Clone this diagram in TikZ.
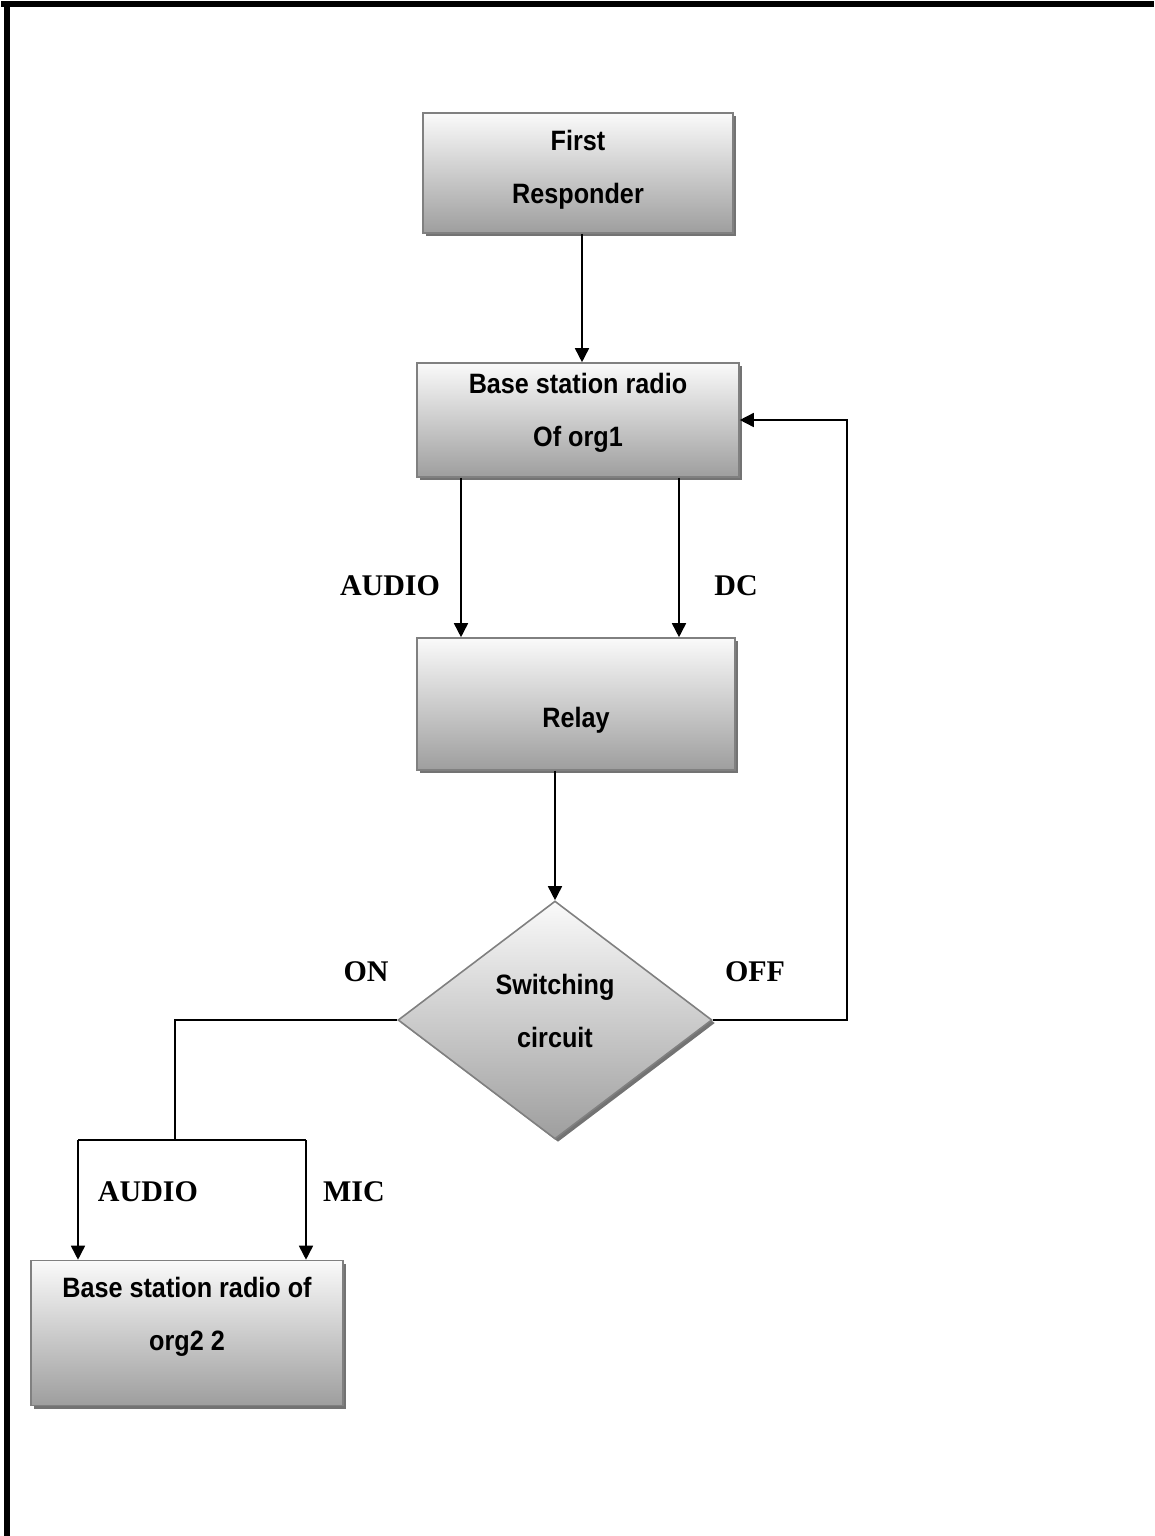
\documentclass[tikz,border=0pt]{standalone}
\usepackage{fontspec}
\setmainfont{Liberation Serif}
\newfontfamily\boxfont[FakeStretch=0.9]{Liberation Sans}
\usetikzlibrary{arrows.meta,shapes.geometric,shadows}
\begin{document}
\begin{tikzpicture}[x=1pt,y=-1pt,
  fbox/.style={draw=black!50, line width=1.6pt, top color=black!2, bottom color=black!38,
    drop shadow={shadow xshift=3pt, shadow yshift=-3pt, fill=black!55, opacity=1},
    inner sep=0pt},
  btext/.style={font=\boxfont\bfseries\fontsize{28}{53}\selectfont, align=center, inner sep=0pt},
  lbl/.style={font=\bfseries\fontsize{30}{36}\selectfont, inner sep=0pt},
  conn/.style={line width=1.6pt, black},
  arr/.style={conn, -{Triangle[length=14pt,width=14pt]}}]
\useasboundingbox (0,0) rectangle (1154,1536);
% outer frame (top and left)
\fill[black] (1,1) rectangle (1154,7);
\fill[black] (4,1) rectangle (10,1536);

% boxes
\node[fbox, rectangle, minimum width=310pt, minimum height=120pt] (fr) at (578,173) {};
\node[btext] (frt) at (578,170) {First\\Responder};

\node[fbox, rectangle, minimum width=322pt, minimum height=114pt] (bs1) at (578,420) {};
\node[btext] (bs1t) at (578,413) {Base station radio\\Of org1};

\node[fbox, rectangle, minimum width=318pt, minimum height=132pt] (rel) at (576,704) {};
\node[btext] (relt) at (576,720) {Relay};

\node[fbox, diamond, minimum width=314pt, minimum height=238pt] (sw) at (555,1020) {};
\node[btext] (swt) at (555,1011) {Switching\\circuit};

\node[fbox, rectangle, minimum width=312pt, minimum height=145pt] (bs2) at (187,1333) {};
\node[btext] (bs2t) at (187,1317) {Base station radio of\\org2 2};

% labels
\node[lbl] (la1) at (390,586) {AUDIO};
\node[lbl] (ldc) at (736,586) {DC};
\node[lbl] (lon) at (366,972) {ON};
\node[lbl] (loff) at (755,972) {OFF};
\node[lbl] (la2) at (148,1192) {AUDIO};
\node[lbl] (lmic) at (354,1192) {MIC};

% connectors
\draw[arr] ([xshift=4pt]fr.south) -- ([xshift=4pt]bs1.north);
\draw[arr] ([xshift=-117pt]bs1.south) -- ([xshift=-115pt]rel.north);
\draw[arr] ([xshift=101pt]bs1.south) -- ([xshift=103pt]rel.north);
\draw[arr] (rel.south -| sw.north) -- (sw.north);
\coordinate (offc) at (847,1020);
\draw[arr] (sw.east) -- (offc) |- (bs1.east);
\coordinate (onc) at (175,1140);
\coordinate (onl) at (78,1140);
\coordinate (onr) at (306,1140);
\draw[conn] (sw.west) -| (onc);
\draw[conn] (onl) -- (onr);
\draw[arr] (onl) -- (bs2.north -| onl);
\draw[arr] (onr) -- (bs2.north -| onr);
\end{tikzpicture}
\end{document}
